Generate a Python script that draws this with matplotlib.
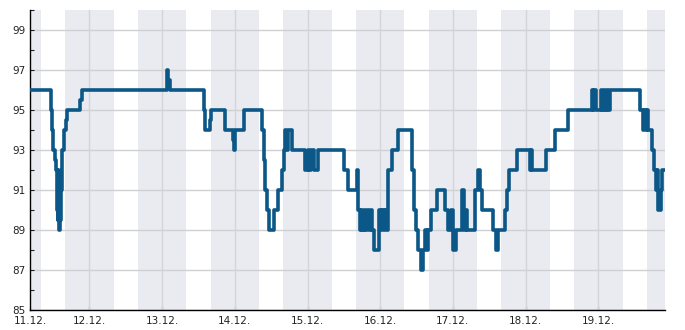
import pandas as pd
import matplotlib
matplotlib.use('Agg')
import matplotlib.pyplot as plt
import matplotlib.dates as mdates
from matplotlib.ticker import MultipleLocator

# hours since 11.12. 00:00 and the reading at that time (step data)
hours = [4.4, 11.35, 11.7, 12.0, 12.7, 13.0, 13.3, 13.5, 13.7, 13.8,
         14.0, 14.3, 14.5, 14.7, 15.0, 15.6, 16.3, 16.6, 20.9, 21.4,
         49.6, 50.1, 50.6, 61.8, 62.2, 63.8, 64.1, 68.8, 71.4, 71.7,
         72.2, 75.0, 81.0, 81.5, 82.0, 82.7, 83.4, 85.0, 86.4, 87.7,
         88.2, 88.7, 89.0, 89.4, 90.9, 95.3, 96.0, 96.5, 97.2, 98.1,
         99.5, 108.0, 109.4, 112.3, 112.7, 113.3, 113.8, 114.1, 114.6, 115.1,
         115.6, 116.3, 116.8, 117.3, 117.9, 119.6, 120.1, 120.6, 121.2, 121.7,
         122.2, 122.7, 123.9, 125.9, 130.5, 131.1, 131.8, 132.5, 133.3, 134.1,
         134.8, 135.3, 135.8, 136.8, 138.9, 141.4, 142.4, 143.4, 144.0, 145.0,
         147.0, 147.6, 148.3, 148.6, 151.3, 152.3, 152.9, 153.6, 157.2, 158.2,
         158.9, 161.2, 161.8, 162.5, 165.2, 169.5, 169.8, 170.1, 174.6, 177.7,
         182.0, 189.9, 190.2, 190.7, 191.2, 192.9, 193.2, 193.9, 194.3, 194.8,
         195.3, 195.8, 205.7, 206.7, 207.0, 207.7, 208.0, 208.4, 209.7, 210.4,
         211.0, 211.4, 211.7, 212.7, 213.0, 214.0]
values = [96, 95, 94, 93, 92.5, 92, 90, 92, 89.5, 91,
          89, 89.5, 92, 91, 93, 94, 94.5, 95, 95.5, 96,
          97, 96.5, 96, 95, 94, 94.5, 95, 94, 93.5, 93,
          94, 95, 94, 92.5, 91, 90, 89, 90, 91, 92,
          93, 94, 93, 94, 93, 92, 93, 92, 93, 92,
          93, 92, 91, 92, 90, 89, 90, 89, 90, 89,
          90, 89, 90, 89, 88, 90, 89, 90, 89, 90,
          89, 92, 93, 94, 92, 90, 89, 88, 87, 88,
          89, 88, 89, 90, 91, 90, 89, 90, 88, 89,
          91, 89, 90, 89, 91, 92, 91, 90, 89, 88,
          89, 90, 91, 92, 93, 92, 93, 92, 93, 94,
          95, 96, 95, 96, 95, 96, 95, 96, 95, 96,
          95, 96, 95, 94, 95, 94, 95, 94, 93, 92,
          91, 92, 90, 91, 92, 92]

day0 = pd.Timestamp('2023-12-11')
times = [day0 + pd.Timedelta(hours=h) for h in hours]

# shaded periods: 16:00 to 08:00 next day
BAND_FROM = 16
BAND_TO = 8
LINE_COLOR = '#0b5787'

fig = plt.figure(figsize=(6.85, 3.3), dpi=100)
ax = fig.add_axes([30 / 685, 20 / 330, 635 / 685, 300 / 330])

xmin, xmax = times[0], times[-1]
for d in range(-1, 10):
    s = day0 + pd.Timedelta(days=d, hours=BAND_FROM)
    e = day0 + pd.Timedelta(days=d + 1, hours=BAND_TO)
    ax.axvspan(max(s, xmin), min(e, xmax), color='#eaebf1', lw=0, zorder=0)

ax.plot(times, values, drawstyle='steps-post', color=LINE_COLOR, lw=2.6, zorder=3)

ax.set_xlim(xmin, xmax)
ax.set_ylim(85, 100)

midnights = [day0 + pd.Timedelta(days=d) for d in range(1, 9)]
ax.set_xticks([xmin] + midnights)
ax.xaxis.set_major_formatter(mdates.DateFormatter('%d.%m.'))
for m in midnights:
    ax.axvline(m, color='#d4d4d6', lw=1, zorder=1)

ax.set_yticks(range(85, 100, 2))
ax.yaxis.set_minor_locator(MultipleLocator(1))
ax.grid(axis='y', which='major', color='#d0d0d2', lw=1, zorder=1)
ax.set_axisbelow(True)

ax.tick_params(which='both', direction='in', length=3, width=0.8, labelsize=7.5, colors='#222222')
ax.tick_params(axis='x', pad=4.5)
ax.tick_params(axis='y', pad=3)
for side in ['top', 'right']:
    ax.spines[side].set_visible(False)
for side in ['left', 'bottom']:
    ax.spines[side].set_color('black')
    ax.spines[side].set_linewidth(1)

fig.savefig('out.png', dpi=100)
